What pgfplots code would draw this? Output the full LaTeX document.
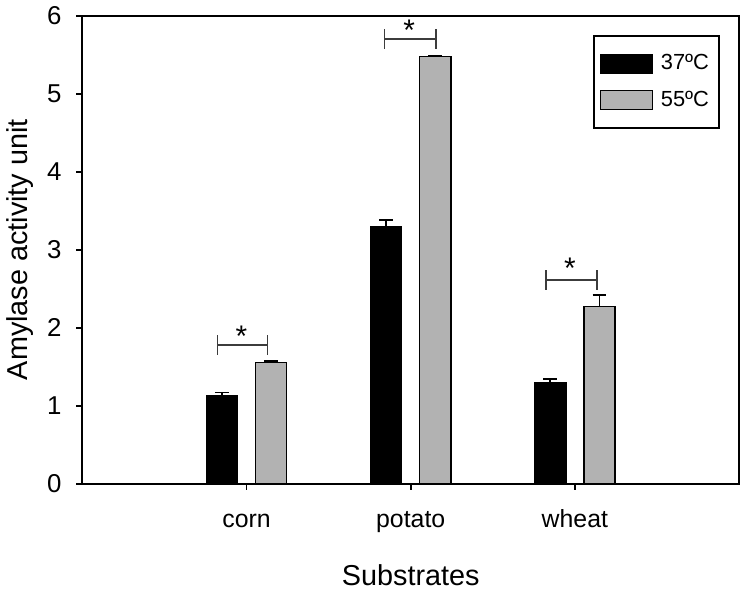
\documentclass[border=0pt]{standalone}
\usepackage{fontspec}
\setmainfont{Liberation Sans}
\usepackage{pgfplots}
\pgfplotsset{compat=1.18}
\usepackage{pgfplotstable}
\definecolor{barGray}{RGB}{178,178,178}
\definecolor{brk}{RGB}{60,60,60}
\pgfplotstableread{
x  b     eb    g     eg
1  1.13  0.04  1.55  0.02
2  3.30  0.08  5.48  0.01
3  1.29  0.05  2.27  0.15
}\datatab
\begin{document}
\begin{tikzpicture}
\begin{axis}[
  width=330.5pt, height=235.5pt, scale only axis,
  xmin=0, xmax=4, ymin=0, ymax=6,
  xtick={1,2,3}, xticklabels={corn,potato,wheat},
  ytick={0,1,2,3,4,5,6},
  tick align=outside, xtick pos=bottom, ytick pos=left,
  major tick length=3pt,
  axis line style={line width=1pt},
  tick style={line width=0.9pt, black},
  /pgf/number format/assume math mode=true,
  ticklabel style={font=\fontsize{12.5}{14}\selectfont},
  xticklabel style={yshift=-6.5pt, text height=9pt, text depth=2.6pt},
  yticklabel style={xshift=-4pt, font=\fontsize{13}{15}\selectfont},
  xlabel={Substrates}, ylabel={Amylase activity unit},
  label style={font=\fontsize{14.5}{17}\selectfont},
  xlabel style={yshift=-9.5pt},
  ylabel style={yshift=0pt},
  unbounded coords=jump,
  legend style={at={(rel axis cs:1,1)}, xshift=-9.5pt, yshift=-9.5pt, anchor=north east,
    draw=black, line width=1.2pt, font=\fontsize{11}{13}\selectfont,
    inner xsep=3pt, inner ysep=7.5pt, row sep=5pt, cells={anchor=west}},
  legend cell align=left,
]
\addplot[ybar, bar width=0.19, bar shift=0pt, fill=black, draw=black, line width=0.7pt,
  legend image code/.code={\draw[fill=black, draw=black, line width=0.7pt] (0pt,-4.75pt) rectangle (26pt,4.75pt);},
  error bars/.cd, y dir=plus, y explicit,
  error mark options={rotate=90, mark size=3.5pt, line width=0.8pt, black},
  error bar style={line width=0.8pt, black}]
  table[x expr=\thisrow{x}-0.15, y=b, y error=eb] {\datatab};
\addplot[ybar, bar width=0.19, bar shift=0pt, fill=barGray, draw=black, line width=0.7pt,
  legend image code/.code={\draw[fill=barGray, draw=black, line width=0.7pt] (0pt,-4.75pt) rectangle (26pt,4.75pt);},
  error bars/.cd, y dir=plus, y explicit,
  error mark options={rotate=90, mark size=3.5pt, line width=0.8pt, black},
  error bar style={line width=0.8pt, black}]
  table[x expr=\thisrow{x}+0.15, y=g, y error=eg] {\datatab};
% significance brackets
\addplot[brk, line width=0.7pt, forget plot] coordinates {
  (0.822,1.655) (0.822,1.905) (nan,nan) (0.822,1.78) (1.128,1.78) (nan,nan) (1.128,1.655) (1.128,1.905) (nan,nan)
  (1.839,5.575) (1.839,5.825) (nan,nan) (1.839,5.70) (2.155,5.70) (nan,nan) (2.155,5.575) (2.155,5.825) (nan,nan)
  (2.824,2.485) (2.824,2.735) (nan,nan) (2.824,2.61) (3.134,2.61) (nan,nan) (3.134,2.485) (3.134,2.735)
};
\node[anchor=north, inner sep=0pt, font=\fontsize{15}{17}\selectfont] at (axis cs:0.968,2.02) {*};
\node[anchor=north, inner sep=0pt, font=\fontsize{15}{17}\selectfont] at (axis cs:1.99,5.955) {*};
\node[anchor=north, inner sep=0pt, font=\fontsize{15}{17}\selectfont] at (axis cs:2.97,2.90) {*};
\legend{\hspace{2pt}37ºC,\hspace{2pt}55ºC}
\end{axis}
\end{tikzpicture}
\end{document}
